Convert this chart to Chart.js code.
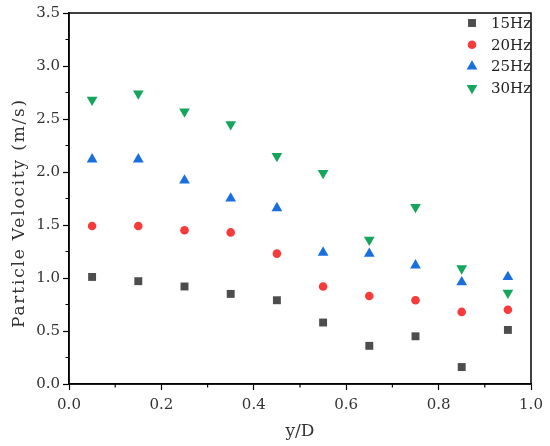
<!DOCTYPE html>
<html>
<head>
<meta charset="utf-8">
<script src="https://cdn.jsdelivr.net/npm/chart.js@4.4.1/dist/chart.umd.min.js"></script>
<style>
  html, body { margin: 0; padding: 0; background: #fff; }
  #wrap { width: 550px; height: 446px; }
</style>
</head>
<body>
<div id="wrap"><canvas id="scatterChart" width="550" height="446"></canvas></div>
<script>
// chart data
var positions = [0.05, 0.15, 0.25, 0.35, 0.45, 0.55, 0.65, 0.75, 0.85, 0.95];
var seriesNames = ["15Hz", "20Hz", "25Hz", "30Hz"];
var v15 = [1.01, 0.97, 0.92, 0.85, 0.79, 0.58, 0.36, 0.45, 0.16, 0.51];
var v20 = [1.49, 1.49, 1.45, 1.43, 1.23, 0.92, 0.83, 0.79, 0.68, 0.70];
var v25 = [2.12, 2.12, 1.92, 1.75, 1.66, 1.24, 1.23, 1.12, 0.96, 1.01];
var v30 = [2.68, 2.74, 2.57, 2.45, 2.15, 1.99, 1.36, 1.67, 1.09, 0.86];
var xMinorTicks = [0.1, 0.3, 0.5, 0.7, 0.9];
var yMinorTicks = [0.25, 0.75, 1.25, 1.75, 2.25, 2.75, 3.25];

var FONT = "'DejaVu Serif', serif";

function toPoints(vals) {
    return vals.map(function (v, i) { return { x: positions[i], y: v }; });
}

var styles = [
    { color: "#4d4d4d", pointStyle: "rect", radius: 5.6, rotation: 0 },
    { color: "#f73b3b", pointStyle: "circle", radius: 4.3, rotation: 0 },
    { color: "#1a6fdf", pointStyle: "triangle", radius: 6.2, rotation: 0 },
    { color: "#15a55c", pointStyle: "triangle", radius: 6.2, rotation: 180 }
];
var allValues = [v15, v20, v25, v30];

var datasets = allValues.map(function (vals, i) {
    var s = styles[i];
    return {
        label: seriesNames[i],
        data: toPoints(vals),
        backgroundColor: s.color,
        borderColor: s.color,
        borderWidth: 0,
        pointStyle: s.pointStyle,
        pointRadius: s.radius,
        pointRotation: s.rotation
    };
});

// frame, minor ticks, y title and inside legend
var extras = {
    id: "extras",
    afterDraw: function (chart) {
        var ctx = chart.ctx;
        var area = chart.chartArea;
        var xs = chart.scales.x, ys = chart.scales.y;
        ctx.save();
        ctx.strokeStyle = "#000";
        ctx.lineWidth = 1.5;
        ctx.strokeRect(area.left, area.top, area.right - area.left, area.bottom - area.top);

        ctx.lineWidth = 1.2;
        ctx.beginPath();
        xMinorTicks.forEach(function (v) {
            var px = xs.getPixelForValue(v);
            ctx.moveTo(px, area.bottom);
            ctx.lineTo(px, area.bottom + 3.5);
        });
        yMinorTicks.forEach(function (v) {
            var py = ys.getPixelForValue(v);
            ctx.moveTo(area.left, py);
            ctx.lineTo(area.left - 3.5, py);
        });
        ctx.stroke();

        // y axis title
        ctx.fillStyle = "#333";
        ctx.font = "17px " + FONT;
        ctx.letterSpacing = "1.8px";
        ctx.textAlign = "center";
        ctx.textBaseline = "middle";
        ctx.translate(20, 213);
        ctx.rotate(-Math.PI / 2);
        ctx.fillText("Particle Velocity (m/s)", 0, 0);
        ctx.restore();

        // legend
        ctx.save();
        ctx.font = "15px " + FONT;
        ctx.textAlign = "left";
        ctx.textBaseline = "middle";
        seriesNames.forEach(function (name, i) {
            var s = styles[i];
            var y = 23 + i * 21.7;
            ctx.fillStyle = s.color;
            ctx.strokeStyle = s.color;
            Chart.helpers.drawPoint(ctx, {
                pointStyle: s.pointStyle,
                radius: s.radius,
                rotation: s.rotation,
                borderWidth: 0
            }, 472, y);
            ctx.fillStyle = "#222";
            ctx.fillText(name, 491, y + 1);
        });
        ctx.restore();
    }
};

var ctx = document.getElementById("scatterChart").getContext("2d");
var myChart = new Chart(ctx, {
    type: "scatter",
    data: { datasets: datasets },
    plugins: [extras],
    options: {
        responsive: false,
        animation: false,
        layout: { padding: { left: 0, right: 19, top: 13, bottom: 0 } },
        plugins: {
            legend: { display: false },
            tooltip: { enabled: false }
        },
        scales: {
            x: {
                type: "linear",
                min: 0,
                max: 1,
                afterFit: function (scale) { scale.height = 62; },
                border: { color: "#000", width: 1.5 },
                grid: { drawOnChartArea: false, tickLength: 6, tickColor: "#000", tickWidth: 1.2 },
                ticks: {
                    stepSize: 0.2,
                    padding: 6,
                    color: "#333",
                    font: { family: FONT, size: 15 },
                    callback: function (v) { return v.toFixed(1); }
                },
                title: {
                    display: true,
                    text: "y/D",
                    color: "#333",
                    font: { family: FONT, size: 17 },
                    padding: { top: 0, bottom: 4 }
                }
            },
            y: {
                type: "linear",
                min: 0,
                max: 3.5,
                afterFit: function (scale) { scale.width = 69; },
                border: { color: "#000", width: 1.5 },
                grid: { drawOnChartArea: false, tickLength: 6, tickColor: "#000", tickWidth: 1.2 },
                ticks: {
                    stepSize: 0.5,
                    padding: 3,
                    color: "#333",
                    font: { family: FONT, size: 15 },
                    callback: function (v) { return v.toFixed(1); }
                }
            }
        }
    }
});
</script>
</body>
</html>
